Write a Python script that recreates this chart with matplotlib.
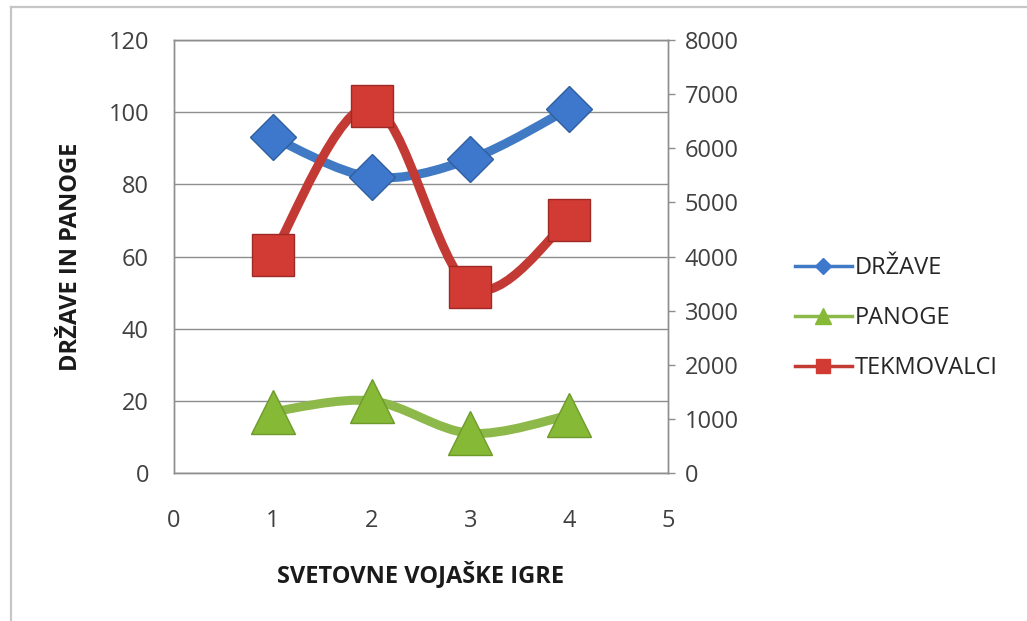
import matplotlib
matplotlib.use("Agg")
import matplotlib.pyplot as plt
from matplotlib.path import Path
from matplotlib.patches import PathPatch
from matplotlib.lines import Line2D
import numpy as np

plt.rcParams['font.family'] = ['Open Sans', 'DejaVu Sans']

# ---- data ----
games = [1, 2, 3, 4]
drzave = [93, 82, 87, 101]
panoge = [17, 20, 11, 16]
tekmovalci = [4030, 6780, 3430, 4680]
left_ticks = [0, 20, 40, 60, 80, 100, 120]
right_ticks = [0, 1000, 2000, 3000, 4000, 5000, 6000, 7000, 8000]
x_ticks = [0, 1, 2, 3, 4, 5]
labels = ['DRŽAVE', 'PANOGE', 'TEKMOVALCI']

c_blue, c_blue_m = '#4079C4', '#3D78CC'
c_green, c_green_m = '#8DB84A', '#86B935'
c_red, c_red_m = '#C33A34', '#D23B33'
grid_c = '#8E8E8E'
FS = 17


def smooth_path(xs, ys):
    """Excel-style smoothed line as cubic Bezier segments through the data points."""
    P = np.column_stack([xs, ys]).astype(float)
    n = len(P)
    verts = [P[0]]
    codes = [Path.MOVETO]
    for i in range(n - 1):
        p0 = P[i - 1] if i > 0 else P[i]
        p1, p2 = P[i], P[i + 1]
        p3 = P[i + 2] if i + 2 < n else P[i + 1]
        c1 = p1 + (p2 - p0) / 6.0
        c2 = p2 - (p3 - p1) / 6.0
        verts += [c1, c2, p2]
        codes += [Path.CURVE4] * 3
    return Path(verts, codes)


fig = plt.figure(figsize=(10.27, 6.21), dpi=100)
# outer chart border (top + left)
fig.add_artist(Line2D([11/1027, 11/1027], [0, 1 - 7/621], transform=fig.transFigure,
                      color='#C6C6C6', lw=1.6))
fig.add_artist(Line2D([11/1027, 1], [1 - 7/621, 1 - 7/621], transform=fig.transFigure,
                      color='#C6C6C6', lw=1.6))

ax = fig.add_axes([174/1027, 1 - 473/621, (668 - 174)/1027, (473 - 40)/621])
ax2 = ax.twinx()

ax.set_xlim(0, 5)
ax.set_ylim(0, 120)
ax2.set_ylim(0, 8000)
ax.set_xticks(x_ticks)
ax.set_yticks(left_ticks)
ax2.set_yticks(right_ticks)

ax.yaxis.grid(True, color=grid_c, lw=1.0)
ax.set_axisbelow(True)
for a in (ax, ax2):
    for s in a.spines.values():
        s.set_color(grid_c)
        s.set_linewidth(1.0)
ax.tick_params(axis='y', length=0, labelsize=FS, colors='#404040', pad=18)
ax.tick_params(axis='x', length=0, labelsize=FS, colors='#404040', pad=26)
ax2.tick_params(axis='y', length=5, width=1, color=grid_c, labelsize=FS,
                labelcolor='#404040', pad=7, direction='out')

ax.set_ylabel('DRŽAVE IN PANOGE', fontsize=FS, fontweight='bold', color='#1A1A1A', labelpad=18)
ax.set_xlabel('SVETOVNE VOJAŠKE IGRE', fontsize=FS, fontweight='bold', color='#1A1A1A', labelpad=20)

# primary series
ax.add_patch(PathPatch(smooth_path(games, drzave), fill=False, ec=c_blue, lw=6.5,
                       capstyle='round', joinstyle='round', zorder=3))
ax.plot(games, drzave, ls='none', marker='D', ms=23, mfc=c_blue_m, mec='#2F5F9E', mew=1, zorder=4)
ax.add_patch(PathPatch(smooth_path(games, panoge), fill=False, ec=c_green, lw=6.5,
                       capstyle='round', joinstyle='round', zorder=3))
ax.plot(games, panoge, ls='none', marker='^', ms=31, mfc=c_green_m, mec='#6E9A2C', mew=1, zorder=4)

# secondary series
ax2.add_patch(PathPatch(smooth_path(games, tekmovalci), fill=False, ec=c_red, lw=6.5,
                        capstyle='round', joinstyle='round', zorder=3))
ax2.plot(games, tekmovalci, ls='none', marker='s', ms=30, mfc=c_red_m, mec='#9E2A25', mew=1, zorder=4)

handles = [
    Line2D([], [], color=c_blue, lw=2.5, marker='D', ms=8, mfc=c_blue_m, mec=c_blue_m),
    Line2D([], [], color=c_green, lw=2.5, marker='^', ms=11, mfc=c_green_m, mec=c_green_m),
    Line2D([], [], color=c_red, lw=2.5, marker='s', ms=10, mfc=c_red_m, mec=c_red_m),
]
fig.legend(handles, labels, loc='center left', bbox_to_anchor=(795/1027, 1 - 318/621),
           frameon=False, fontsize=FS, handlelength=2.4, handletextpad=0.15,
           labelspacing=1.1, borderpad=0, borderaxespad=0, labelcolor='#262626')

fig.savefig('out.png', dpi=100, facecolor='white')
